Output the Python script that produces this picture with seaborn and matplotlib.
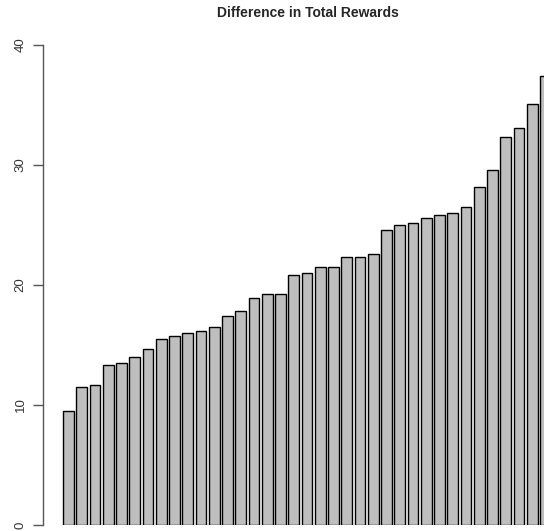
import matplotlib
matplotlib.use("Agg")
import matplotlib.pyplot as plt
import seaborn as sns
import pandas as pd

# Sorted reward differences, one bar per run
runs = [f"r{i:02d}" for i in range(1, 38)]
reward_diff = [9.5, 11.5, 11.7, 13.3, 13.5, 14.0, 14.7, 15.5, 15.75, 16.0,
               16.2, 16.5, 17.4, 17.8, 18.9, 19.25, 19.25, 20.8, 21.0, 21.5,
               21.5, 22.35, 22.35, 22.55, 24.6, 25.0, 25.2, 25.55, 25.8, 26.0,
               26.5, 28.2, 29.55, 32.35, 33.05, 35.1, 37.45]
y_ticks = [0, 10, 20, 30, 40]
title = "Difference in Total Rewards"

df = pd.DataFrame({"run": runs, "diff": reward_diff})

sns.set_style("white")
plt.rcParams["font.family"] = ["Liberation Sans", "DejaVu Sans"]

W, H = 544, 531
fig = plt.figure(figsize=(W / 100, H / 100), dpi=100)
left_px, right_px = 43.3, 544
bot_px, top_px = 525, 45
ax = fig.add_axes([left_px / W, (H - bot_px) / H,
                   (right_px - left_px) / W, (bot_px - top_px) / H])

sns.barplot(data=df, x="run", y="diff", color="#BEBEBE", saturation=1,
            width=0.83, edgecolor="black", linewidth=1.0, ax=ax)

pitch = 13.25
ax.set_xlim(-(68.5 - left_px) / pitch, -(68.5 - left_px) / pitch + (right_px - left_px) / pitch)
ax.set_ylim(0, 40)

for s in ["top", "right", "bottom"]:
    ax.spines[s].set_visible(False)
ax.spines["left"].set_bounds(0, 40)
ax.spines["left"].set_color("#555555")
ax.spines["left"].set_linewidth(1.0)
ax.set_xticks([])
ax.set_yticks(y_ticks)
ax.set_yticklabels([str(v) for v in y_ticks], rotation=90, va="center",
                   fontsize=9.5, color="#333333")
ax.tick_params(axis="y", length=7, width=1.0, color="#555555", pad=5, left=True)
ax.set_xlabel("")
ax.set_ylabel("")

fig.text(308 / W, 1 - 13 / H, title, ha="center", va="center",
         fontsize=10, fontweight="bold")

fig.savefig("out.png", dpi=100)
